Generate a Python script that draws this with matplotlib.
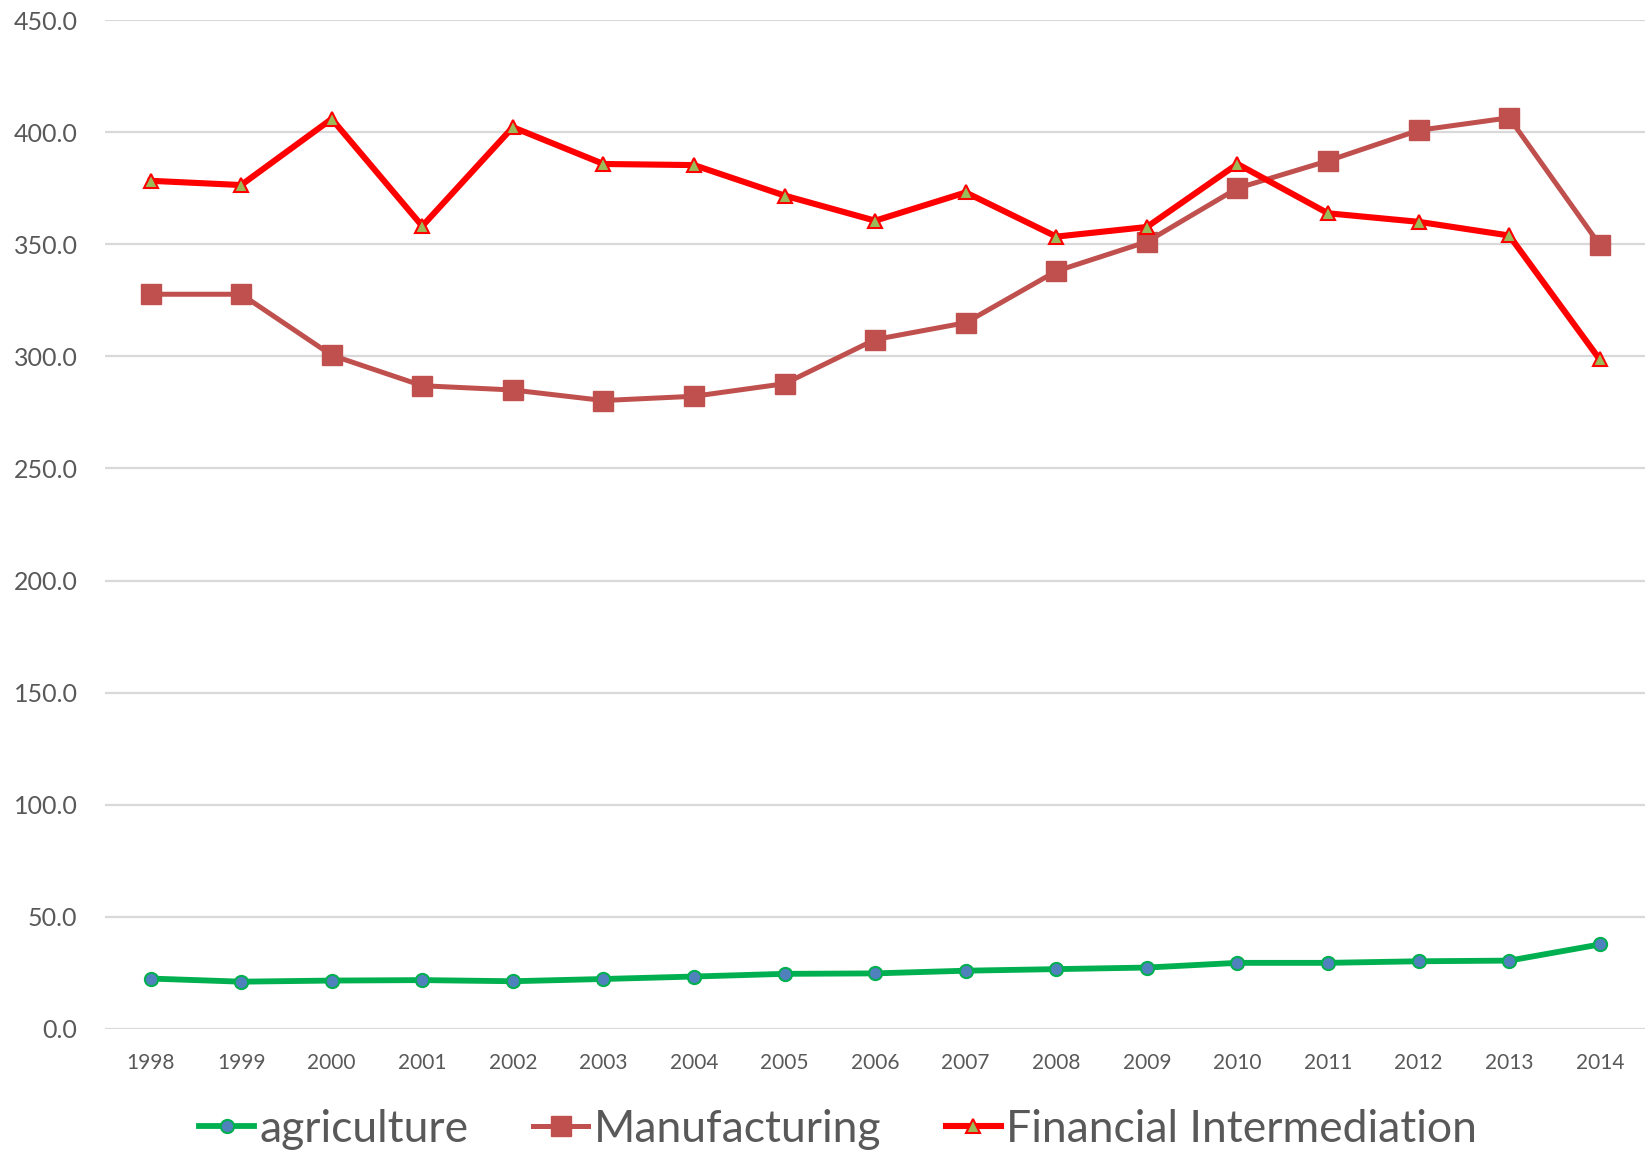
import matplotlib.pyplot as plt
from matplotlib.ticker import FormatStrFormatter

plt.rcParams['font.family'] = ['Lato', 'DejaVu Sans']

years = [str(y) for y in range(1998, 2015)]
agriculture = [22.5, 21.1, 21.6, 21.8, 21.3, 22.3, 23.4, 24.6, 24.8, 26.0,
               26.7, 27.4, 29.5, 29.5, 30.2, 30.5, 37.7]
manufacturing = [327.7, 327.7, 300.5, 286.9, 285.0, 280.3, 282.2, 287.8, 307.5,
                 315.0, 338.0, 351.1, 375.0, 387.2, 400.8, 406.4, 349.7]
financial = [378.3, 376.4, 405.9, 358.1, 402.2, 385.8, 385.3, 371.7, 360.5,
             373.1, 353.4, 357.7, 385.8, 363.8, 360.0, 353.9, 298.6]

fig = plt.figure(figsize=(16.5, 11.51), dpi=100)
ax = fig.add_axes([0.0638, 0.106, 0.9332, 0.8766])

x = range(len(years))
ax.plot(x, agriculture, color='#00B050', lw=4.2, marker='o', ms=9.5,
        mfc='#4F81BD', mec='#00B050', mew=1.5, label='agriculture', zorder=3)
ax.plot(x, manufacturing, color='#C0504D', lw=3.6, marker='s', ms=14,
        mfc='#C0504D', mec='#C0504D', label='Manufacturing', zorder=3)
ax.plot(x, financial, color='#FF0000', lw=4.4, marker='^', ms=10,
        mfc='#9BBB59', mec='#FF0000', mew=1.5, label='Financial Intermediation', zorder=4)

ax.set_xlim(-0.5, len(years) - 0.5)
ax.set_ylim(0, 450)
ax.set_yticks(range(0, 451, 50))
ax.yaxis.set_major_formatter(FormatStrFormatter('%.1f'))
ax.set_xticks(list(x))
ax.set_xticklabels(years)
ax.grid(axis='y', color='#D9D9D9', lw=1.6)
ax.set_axisbelow(True)
for s in ax.spines.values():
    s.set_visible(False)
ax.tick_params(axis='y', length=0, pad=20, labelsize=18, labelcolor='#595959')
ax.tick_params(axis='x', length=0, pad=17, labelsize=15, labelcolor='#595959')

leg = fig.legend(loc='center', bbox_to_anchor=(0.508, 0.019), ncol=3, frameon=False,
                 fontsize=32, handlelength=1.24, handletextpad=0.12,
                 columnspacing=1.45, labelcolor='#595959')

fig.savefig('out.png', dpi=100)
